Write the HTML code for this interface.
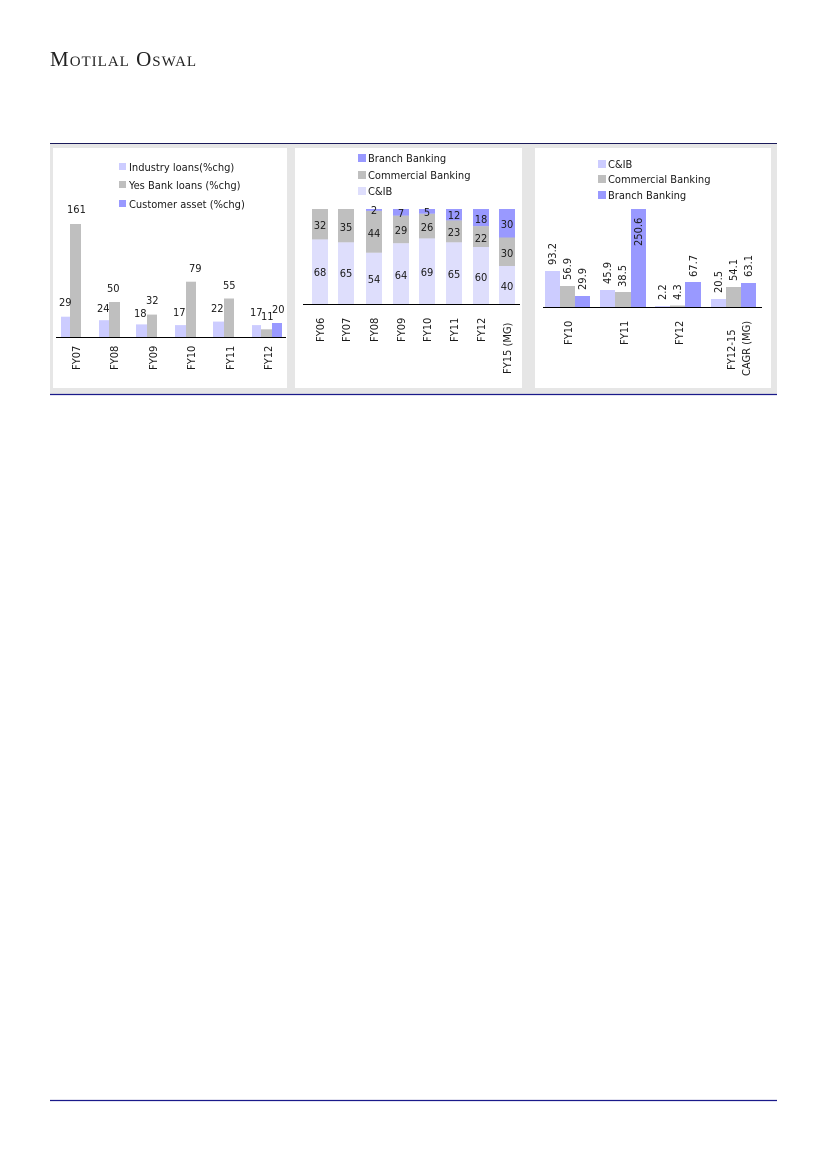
<!DOCTYPE html>
<html><head><meta charset="utf-8"><style>
html,body{margin:0;padding:0;background:#fff;}
svg{display:block;}
text{font-family:"DejaVu Sans Condensed","Liberation Sans",sans-serif;font-size:11px;fill:#1a1a1a;}
</style></head><body>
<svg width="826" height="1169" viewBox="0 0 826 1169">
<text x="50" y="66" style="font-family:'Liberation Serif',serif;font-size:21px;letter-spacing:1px;fill:#222">M<tspan font-size="15">OTILAL</tspan> O<tspan font-size="15">SWAL</tspan></text>
<rect x="50" y="143" width="727" height="251" fill="#e6e6e6"/>
<line x1="50" y1="143.5" x2="777" y2="143.5" stroke="#1a1a5a" stroke-width="1"/>
<line x1="50" y1="394.5" x2="777" y2="394.5" stroke="#1a1a8a" stroke-width="1.2"/>
<rect x="53" y="148" width="234" height="240" fill="#fff"/>
<rect x="295" y="148" width="227" height="240" fill="#fff"/>
<rect x="535" y="148" width="236" height="240" fill="#fff"/>

<!-- Chart 1 -->
<rect x="119" y="163" width="7" height="7" fill="#ccccff"/><text x="129" y="171">Industry loans(%chg)</text>
<rect x="119" y="181" width="7" height="7" fill="#bfbfbf"/><text x="129" y="189">Yes Bank loans (%chg)</text>
<rect x="119" y="200" width="7" height="7" fill="#9999ff"/><text x="129" y="208">Customer asset (%chg)</text>
<g>
<rect x="61" y="316.7" width="10" height="20.3" fill="#ccccff"/><rect x="70" y="224" width="11" height="113" fill="#bfbfbf"/>
<rect x="99" y="320.2" width="10" height="16.8" fill="#ccccff"/><rect x="109" y="302" width="11" height="35" fill="#bfbfbf"/>
<rect x="136" y="324.4" width="11" height="12.6" fill="#ccccff"/><rect x="147" y="314.6" width="10" height="22.4" fill="#bfbfbf"/>
<rect x="175" y="325.1" width="11" height="11.9" fill="#ccccff"/><rect x="186" y="281.7" width="10" height="55.3" fill="#bfbfbf"/>
<rect x="213" y="321.6" width="11" height="15.4" fill="#ccccff"/><rect x="224" y="298.5" width="10" height="38.5" fill="#bfbfbf"/>
<rect x="252" y="325.1" width="9" height="11.9" fill="#ccccff"/><rect x="261" y="329.3" width="11" height="7.7" fill="#bfbfbf"/><rect x="272" y="323" width="10" height="14" fill="#9999ff"/>
</g>
<line x1="56" y1="337.5" x2="286" y2="337.5" stroke="#000"/>
<text x="59" y="306">29</text><text x="67" y="213">161</text>
<text x="97" y="312">24</text><text x="107" y="292">50</text>
<text x="134" y="317">18</text><text x="146" y="304">32</text>
<text x="173" y="316">17</text><text x="189" y="272">79</text>
<text x="211" y="312">22</text><text x="223" y="289">55</text>
<text x="250" y="316">17</text><text x="261" y="320">11</text><text x="272" y="313">20</text>
<g font-size="11">
<text transform="translate(80,370) rotate(-90)">FY07</text>
<text transform="translate(118,370) rotate(-90)">FY08</text>
<text transform="translate(157,370) rotate(-90)">FY09</text>
<text transform="translate(195,370) rotate(-90)">FY10</text>
<text transform="translate(234,370) rotate(-90)">FY11</text>
<text transform="translate(272,370) rotate(-90)">FY12</text>
</g>

<!-- Chart 2 -->
<rect x="358" y="154" width="8" height="8" fill="#9999ff"/><text x="368" y="162">Branch Banking</text>
<rect x="358" y="171" width="8" height="8" fill="#bfbfbf"/><text x="368" y="179">Commercial Banking</text>
<rect x="358" y="187" width="8" height="8" fill="#dedefc"/><text x="368" y="195">C&amp;IB</text>
<g>
<!-- x, cib, comm, branch -->
<rect x="312" y="239.4" width="16" height="64.6" fill="#dedefc"/><rect x="312" y="209" width="16" height="30.4" fill="#bfbfbf"/>
<rect x="338" y="242.3" width="16" height="61.7" fill="#dedefc"/><rect x="338" y="209" width="16" height="33.3" fill="#bfbfbf"/>
<rect x="366" y="252.7" width="16" height="51.3" fill="#dedefc"/><rect x="366" y="210.9" width="16" height="41.8" fill="#bfbfbf"/><rect x="366" y="209" width="16" height="1.9" fill="#9999ff"/>
<rect x="393" y="243.2" width="16" height="60.8" fill="#dedefc"/><rect x="393" y="215.6" width="16" height="27.6" fill="#bfbfbf"/><rect x="393" y="209" width="16" height="6.6" fill="#9999ff"/>
<rect x="419" y="238.4" width="16" height="65.6" fill="#dedefc"/><rect x="419" y="213.7" width="16" height="24.7" fill="#bfbfbf"/><rect x="419" y="209" width="16" height="4.7" fill="#9999ff"/>
<rect x="446" y="242.3" width="16" height="61.7" fill="#dedefc"/><rect x="446" y="220.4" width="16" height="21.9" fill="#bfbfbf"/><rect x="446" y="209" width="16" height="11.4" fill="#9999ff"/>
<rect x="473" y="247" width="16" height="57" fill="#dedefc"/><rect x="473" y="226.1" width="16" height="20.9" fill="#bfbfbf"/><rect x="473" y="209" width="16" height="17.1" fill="#9999ff"/>
<rect x="499" y="266" width="16" height="38" fill="#dedefc"/><rect x="499" y="237.5" width="16" height="28.5" fill="#bfbfbf"/><rect x="499" y="209" width="16" height="28.5" fill="#9999ff"/>
</g>
<line x1="303" y1="304.5" x2="520" y2="304.5" stroke="#000"/>
<g text-anchor="middle">
<text x="320" y="229">32</text><text x="320" y="276">68</text>
<text x="346" y="231">35</text><text x="346" y="277">65</text>
<text x="374" y="214">2</text><text x="374" y="237">44</text><text x="374" y="283">54</text>
<text x="401" y="217">7</text><text x="401" y="234">29</text><text x="401" y="279">64</text>
<text x="427" y="216">5</text><text x="427" y="231">26</text><text x="427" y="276">69</text>
<text x="454" y="219">12</text><text x="454" y="236">23</text><text x="454" y="278">65</text>
<text x="481" y="223">18</text><text x="481" y="242">22</text><text x="481" y="281">60</text>
<text x="507" y="228">30</text><text x="507" y="257">30</text><text x="507" y="290">40</text>
</g>
<g>
<text transform="translate(324,342) rotate(-90)">FY06</text>
<text transform="translate(350,342) rotate(-90)">FY07</text>
<text transform="translate(378,342) rotate(-90)">FY08</text>
<text transform="translate(405,342) rotate(-90)">FY09</text>
<text transform="translate(431,342) rotate(-90)">FY10</text>
<text transform="translate(458,342) rotate(-90)">FY11</text>
<text transform="translate(485,342) rotate(-90)">FY12</text>
<text transform="translate(511,374) rotate(-90)">FY15 (MG)</text>
</g>

<!-- Chart 3 -->
<rect x="598" y="160" width="8" height="8" fill="#ccccff"/><text x="608" y="168">C&amp;IB</text>
<rect x="598" y="175" width="8" height="8" fill="#bfbfbf"/><text x="608" y="183">Commercial Banking</text>
<rect x="598" y="191" width="8" height="8" fill="#9999ff"/><text x="608" y="199">Branch Banking</text>
<g>
<rect x="545" y="271" width="15" height="36" fill="#ccccff"/><rect x="560" y="286" width="15" height="21" fill="#bfbfbf"/><rect x="575" y="296" width="15" height="11" fill="#9999ff"/>
<rect x="600" y="290" width="15" height="17" fill="#ccccff"/><rect x="615" y="292" width="16" height="15" fill="#bfbfbf"/><rect x="631" y="209" width="15" height="98" fill="#9999ff"/>
<rect x="655" y="306" width="15" height="1" fill="#ccccff"/><rect x="670" y="305.5" width="15" height="1.5" fill="#bfbfbf"/><rect x="685" y="282" width="16" height="25" fill="#9999ff"/>
<rect x="711" y="299" width="15" height="8" fill="#ccccff"/><rect x="726" y="287" width="15" height="20" fill="#bfbfbf"/><rect x="741" y="283" width="15" height="24" fill="#9999ff"/>
</g>
<line x1="543" y1="307.5" x2="762" y2="307.5" stroke="#000"/>
<g>
<text transform="translate(556,265) rotate(-90)">93.2</text>
<text transform="translate(571,280) rotate(-90)">56.9</text>
<text transform="translate(586,290) rotate(-90)">29.9</text>
<text transform="translate(611,284) rotate(-90)">45.9</text>
<text transform="translate(626,287) rotate(-90)">38.5</text>
<text transform="translate(642,246) rotate(-90)">250.6</text>
<text transform="translate(666,300) rotate(-90)">2.2</text>
<text transform="translate(681,300) rotate(-90)">4.3</text>
<text transform="translate(697,277) rotate(-90)">67.7</text>
<text transform="translate(722,293) rotate(-90)">20.5</text>
<text transform="translate(737,281) rotate(-90)">54.1</text>
<text transform="translate(752,277) rotate(-90)">63.1</text>
<text transform="translate(572,345) rotate(-90)">FY10</text>
<text transform="translate(628,345) rotate(-90)">FY11</text>
<text transform="translate(683,345) rotate(-90)">FY12</text>
<text transform="translate(735,370) rotate(-90)">FY12-15</text>
<text transform="translate(750,376) rotate(-90)">CAGR (MG)</text>
</g>

<line x1="50" y1="1100.5" x2="777" y2="1100.5" stroke="#1a1a8a" stroke-width="1.2"/>
</svg>
</body></html>
